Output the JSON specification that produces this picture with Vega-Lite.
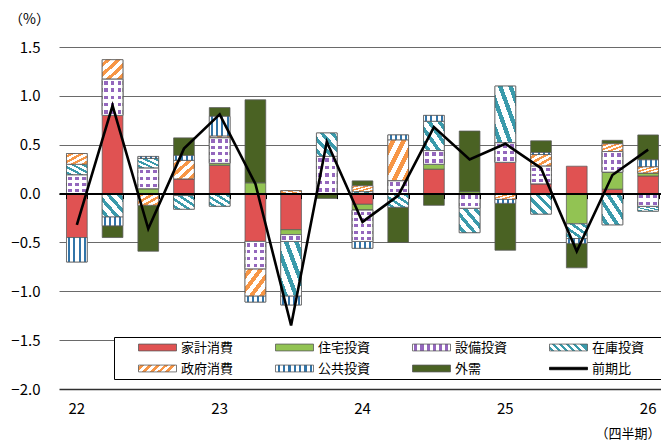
{
  "$schema": "https://vega.github.io/schema/vega-lite/v6.json",
  "width": 602,
  "height": 342,
  "autosize": "none",
  "padding": {"left": 59, "top": 47, "right": 0, "bottom": 52},
  "background": "white",
  "config": {
    "font": "Noto Sans CJK JP",
    "view": {"stroke": null}
  },
  "datasets": {
    "ord": [
      {"s": "家計消費", "k": 1},
      {"s": "住宅投資", "k": 2},
      {"s": "設備投資", "k": 3},
      {"s": "在庫投資", "k": 4},
      {"s": "政府消費", "k": 5},
      {"s": "公共投資", "k": 6},
      {"s": "外需", "k": 7}
    ],
    "bars": [
      {"q": "22Q1", "s": "家計消費", "v": -0.45},
      {"q": "22Q1", "s": "設備投資", "v": 0.19},
      {"q": "22Q1", "s": "在庫投資", "v": 0.11},
      {"q": "22Q1", "s": "政府消費", "v": 0.11},
      {"q": "22Q1", "s": "公共投資", "v": -0.25},
      {"q": "22Q2", "s": "家計消費", "v": 0.80},
      {"q": "22Q2", "s": "設備投資", "v": 0.37},
      {"q": "22Q2", "s": "在庫投資", "v": -0.24},
      {"q": "22Q2", "s": "政府消費", "v": 0.20},
      {"q": "22Q2", "s": "公共投資", "v": -0.09},
      {"q": "22Q2", "s": "外需", "v": -0.12},
      {"q": "22Q3", "s": "住宅投資", "v": 0.05},
      {"q": "22Q3", "s": "設備投資", "v": 0.21},
      {"q": "22Q3", "s": "在庫投資", "v": 0.10},
      {"q": "22Q3", "s": "政府消費", "v": -0.12},
      {"q": "22Q3", "s": "公共投資", "v": 0.02},
      {"q": "22Q3", "s": "外需", "v": -0.47},
      {"q": "22Q4", "s": "家計消費", "v": 0.15},
      {"q": "22Q4", "s": "設備投資", "v": -0.02},
      {"q": "22Q4", "s": "在庫投資", "v": -0.14},
      {"q": "22Q4", "s": "政府消費", "v": 0.19},
      {"q": "22Q4", "s": "公共投資", "v": 0.05},
      {"q": "22Q4", "s": "外需", "v": 0.18},
      {"q": "23Q1", "s": "家計消費", "v": 0.29},
      {"q": "23Q1", "s": "住宅投資", "v": 0.02},
      {"q": "23Q1", "s": "設備投資", "v": 0.26},
      {"q": "23Q1", "s": "在庫投資", "v": -0.13},
      {"q": "23Q1", "s": "政府消費", "v": 0.02},
      {"q": "23Q1", "s": "公共投資", "v": 0.20},
      {"q": "23Q1", "s": "外需", "v": 0.09},
      {"q": "23Q2", "s": "家計消費", "v": -0.49},
      {"q": "23Q2", "s": "住宅投資", "v": 0.11},
      {"q": "23Q2", "s": "設備投資", "v": -0.28},
      {"q": "23Q2", "s": "政府消費", "v": -0.28},
      {"q": "23Q2", "s": "公共投資", "v": -0.06},
      {"q": "23Q2", "s": "外需", "v": 0.85},
      {"q": "23Q3", "s": "家計消費", "v": -0.37},
      {"q": "23Q3", "s": "住宅投資", "v": -0.05},
      {"q": "23Q3", "s": "設備投資", "v": -0.07},
      {"q": "23Q3", "s": "在庫投資", "v": -0.56},
      {"q": "23Q3", "s": "政府消費", "v": 0.03},
      {"q": "23Q3", "s": "公共投資", "v": -0.09},
      {"q": "23Q4", "s": "設備投資", "v": 0.38},
      {"q": "23Q4", "s": "在庫投資", "v": 0.24},
      {"q": "23Q4", "s": "外需", "v": -0.05},
      {"q": "24Q1", "s": "家計消費", "v": -0.11},
      {"q": "24Q1", "s": "住宅投資", "v": -0.06},
      {"q": "24Q1", "s": "設備投資", "v": -0.32},
      {"q": "24Q1", "s": "在庫投資", "v": 0.02},
      {"q": "24Q1", "s": "政府消費", "v": 0.06},
      {"q": "24Q1", "s": "公共投資", "v": -0.07},
      {"q": "24Q1", "s": "外需", "v": 0.05},
      {"q": "24Q2", "s": "設備投資", "v": 0.13},
      {"q": "24Q2", "s": "在庫投資", "v": -0.14},
      {"q": "24Q2", "s": "政府消費", "v": 0.42},
      {"q": "24Q2", "s": "公共投資", "v": 0.05},
      {"q": "24Q2", "s": "外需", "v": -0.36},
      {"q": "24Q3", "s": "家計消費", "v": 0.25},
      {"q": "24Q3", "s": "住宅投資", "v": 0.05},
      {"q": "24Q3", "s": "設備投資", "v": 0.14},
      {"q": "24Q3", "s": "在庫投資", "v": 0.30},
      {"q": "24Q3", "s": "公共投資", "v": 0.06},
      {"q": "24Q3", "s": "外需", "v": -0.12},
      {"q": "24Q4", "s": "住宅投資", "v": 0.02},
      {"q": "24Q4", "s": "設備投資", "v": -0.15},
      {"q": "24Q4", "s": "在庫投資", "v": -0.25},
      {"q": "24Q4", "s": "外需", "v": 0.62},
      {"q": "25Q1", "s": "家計消費", "v": 0.32},
      {"q": "25Q1", "s": "設備投資", "v": 0.20},
      {"q": "25Q1", "s": "在庫投資", "v": 0.58},
      {"q": "25Q1", "s": "政府消費", "v": -0.06},
      {"q": "25Q1", "s": "公共投資", "v": -0.04},
      {"q": "25Q1", "s": "外需", "v": -0.48},
      {"q": "25Q2", "s": "家計消費", "v": 0.10},
      {"q": "25Q2", "s": "設備投資", "v": 0.18},
      {"q": "25Q2", "s": "在庫投資", "v": -0.21},
      {"q": "25Q2", "s": "政府消費", "v": 0.12},
      {"q": "25Q2", "s": "公共投資", "v": 0.02},
      {"q": "25Q2", "s": "外需", "v": 0.12},
      {"q": "25Q3", "s": "家計消費", "v": 0.28},
      {"q": "25Q3", "s": "住宅投資", "v": -0.31},
      {"q": "25Q3", "s": "在庫投資", "v": -0.15},
      {"q": "25Q3", "s": "公共投資", "v": -0.05},
      {"q": "25Q3", "s": "外需", "v": -0.25},
      {"q": "25Q4", "s": "家計消費", "v": 0.045},
      {"q": "25Q4", "s": "住宅投資", "v": 0.175},
      {"q": "25Q4", "s": "設備投資", "v": 0.21},
      {"q": "25Q4", "s": "在庫投資", "v": -0.32},
      {"q": "25Q4", "s": "政府消費", "v": 0.08},
      {"q": "25Q4", "s": "外需", "v": 0.035},
      {"q": "26Q1", "s": "家計消費", "v": 0.18},
      {"q": "26Q1", "s": "住宅投資", "v": 0.03},
      {"q": "26Q1", "s": "設備投資", "v": -0.13},
      {"q": "26Q1", "s": "在庫投資", "v": -0.05},
      {"q": "26Q1", "s": "政府消費", "v": 0.065},
      {"q": "26Q1", "s": "公共投資", "v": 0.07},
      {"q": "26Q1", "s": "外需", "v": 0.255}
    ],
    "line": [
      {"q": "22Q1", "v": -0.32},
      {"q": "22Q2", "v": 0.90},
      {"q": "22Q3", "v": -0.36},
      {"q": "22Q4", "v": 0.46},
      {"q": "23Q1", "v": 0.81},
      {"q": "23Q2", "v": 0.10},
      {"q": "23Q3", "v": -1.35},
      {"q": "23Q4", "v": 0.53},
      {"q": "24Q1", "v": -0.29},
      {"q": "24Q2", "v": -0.02},
      {"q": "24Q3", "v": 0.68},
      {"q": "24Q4", "v": 0.35},
      {"q": "25Q1", "v": 0.51},
      {"q": "25Q2", "v": 0.26},
      {"q": "25Q3", "v": -0.59},
      {"q": "25Q4", "v": 0.19},
      {"q": "26Q1", "v": 0.45}
    ]
  },
  "resolve": {"axis": {"x": "independent"}},
  "layer": [
    {
      "data": {"name": "bars"},
      "transform": [
        {"lookup": "s", "from": {"data": {"name": "ord"}, "key": "s", "fields": ["k"]}},
        {"stack": "v", "groupby": ["q"], "sort": [{"field": "k", "order": "ascending"}], "as": ["y0", "y1"]}
      ],
      "encoding": {
        "x": {"field": "q", "type": "ordinal"},
        "y": {"field": "y1", "type": "quantitative"},
        "y2": {"field": "y0"}
      },
      "layer": [
        {
          "mark": {"type": "bar", "strokeWidth": 0.75},
          "encoding": {
            "x": {
              "field": "q", "type": "ordinal",
              "scale": {
                "domain": ["22Q1","22Q2","22Q3","22Q4","23Q1","23Q2","23Q3","23Q4","24Q1","24Q2","24Q3","24Q4","25Q1","25Q2","25Q3","25Q4","26Q1"],
                "range": [0, 607],
                "paddingInner": 0.42,
                "paddingOuter": 0.21
              },
              "axis": {
                "orient": "bottom",
                "offset": -195.4,
                "labels": false,
                "title": null,
                "grid": false,
                "domainColor": "black",
                "domainWidth": 2,
                "tickColor": "black",
                "tickSize": 5,
                "tickWidth": 1,
                "tickBand": "extent",
                "zindex": 1
              }
            },
            "y": {
              "field": "y1", "type": "quantitative",
              "scale": {"domain": [-2, 1.5], "nice": false, "zero": false},
              "axis": {
                "values": [-2, -1.5, -1, -0.5, 0, 0.5, 1, 1.5],
                "format": ".1f",
                "domain": false,
                "ticks": false,
                "labelPadding": 19,
                "labelFontSize": 15,
                "labelColor": "black",
                "grid": true,
                "gridColor": {"condition": {"test": "datum.value === -2", "value": "#303030"}, "value": "#6a6a6a"},
                "gridWidth": {"condition": {"test": "datum.value === -2", "value": 1.6}, "value": 1},
                "title": "（%）",
                "titleAngle": 0,
                "titleX": -30,
                "titleY": -28,
                "titleAlign": "center",
                "titleBaseline": "middle",
                "titleFontSize": 14,
                "titleFontWeight": "normal",
                "titleColor": "black"
              }
            },
            "fill": {
              "field": "s", "type": "nominal",
              "scale": {
                "domain": ["外需","家計消費","住宅投資","設備投資","在庫投資","政府消費","公共投資"],
                "range": ["#4a6223", "#e05252", "#92c353", "#d6c3e6", "#a9d3da", "#fbcda6", "#9dc0da"]
              },
              "legend": null
            },
            "stroke": {
              "field": "s", "type": "nominal",
              "scale": {
                "domain": ["家計消費","住宅投資","設備投資","在庫投資","政府消費","公共投資","外需","前期比"],
                "range": ["#595959", "#595959", "#595959", "#595959", "#595959", "#595959", "#595959", "black"]
              },
              "legend": {
                "orient": "none",
                "legendX": 55,
                "legendY": 290,
                "direction": "horizontal",
                "columns": 4,
                "gridAlign": "all",
                "columnPadding": 0,
                "rowPadding": 6,
                "clipHeight": 15,
                "padding": 3,
                "title": null,
                "symbolType": "M-1,-0.18H1V0.18H-1Z",
                "symbolSize": 1444,
                "symbolStrokeWidth": 0.8,
                "symbolOffset": 21,
                "symbolFillColor": {"expr": "datum.value === '在庫投資' ? {gradient: 'linear', x1: 0, y1: 1, x2: 1, y2: 0.816, stops: [{offset: 0, color: 'white'}, {offset: 0.05, color: 'white'}, {offset: 0.05, color: '#3a9aab'}, {offset: 0.13, color: '#3a9aab'}, {offset: 0.13, color: 'white'}, {offset: 0.23, color: 'white'}, {offset: 0.23, color: '#3a9aab'}, {offset: 0.31, color: '#3a9aab'}, {offset: 0.31, color: 'white'}, {offset: 0.41, color: 'white'}, {offset: 0.41, color: '#3a9aab'}, {offset: 0.49, color: '#3a9aab'}, {offset: 0.49, color: 'white'}, {offset: 0.59, color: 'white'}, {offset: 0.59, color: '#3a9aab'}, {offset: 0.67, color: '#3a9aab'}, {offset: 0.67, color: 'white'}, {offset: 0.77, color: 'white'}, {offset: 0.77, color: '#3a9aab'}, {offset: 0.85, color: '#3a9aab'}, {offset: 0.85, color: 'white'}, {offset: 0.95, color: 'white'}, {offset: 0.95, color: '#3a9aab'}, {offset: 1, color: '#3a9aab'}]} : datum.value === '政府消費' ? {gradient: 'linear', x1: 0, y1: 0, x2: 1, y2: 0.184, stops: [{offset: 0, color: 'white'}, {offset: 0.05, color: 'white'}, {offset: 0.05, color: '#f79646'}, {offset: 0.15, color: '#f79646'}, {offset: 0.15, color: 'white'}, {offset: 0.25, color: 'white'}, {offset: 0.25, color: '#f79646'}, {offset: 0.35, color: '#f79646'}, {offset: 0.35, color: 'white'}, {offset: 0.45, color: 'white'}, {offset: 0.45, color: '#f79646'}, {offset: 0.55, color: '#f79646'}, {offset: 0.55, color: 'white'}, {offset: 0.65, color: 'white'}, {offset: 0.65, color: '#f79646'}, {offset: 0.75, color: '#f79646'}, {offset: 0.75, color: 'white'}, {offset: 0.85, color: 'white'}, {offset: 0.85, color: '#f79646'}, {offset: 0.95, color: '#f79646'}, {offset: 0.95, color: 'white'}, {offset: 1, color: 'white'}]} : datum.value === '公共投資' ? {gradient: 'linear', x1: 0, y1: 0, x2: 1, y2: 0, stops: [{offset: 0, color: 'white'}, {offset: 0.06, color: 'white'}, {offset: 0.06, color: '#3274a8'}, {offset: 0.12, color: '#3274a8'}, {offset: 0.12, color: 'white'}, {offset: 0.2, color: 'white'}, {offset: 0.2, color: '#3274a8'}, {offset: 0.26, color: '#3274a8'}, {offset: 0.26, color: 'white'}, {offset: 0.34, color: 'white'}, {offset: 0.34, color: '#3274a8'}, {offset: 0.4, color: '#3274a8'}, {offset: 0.4, color: 'white'}, {offset: 0.48, color: 'white'}, {offset: 0.48, color: '#3274a8'}, {offset: 0.54, color: '#3274a8'}, {offset: 0.54, color: 'white'}, {offset: 0.62, color: 'white'}, {offset: 0.62, color: '#3274a8'}, {offset: 0.68, color: '#3274a8'}, {offset: 0.68, color: 'white'}, {offset: 0.76, color: 'white'}, {offset: 0.76, color: '#3274a8'}, {offset: 0.82, color: '#3274a8'}, {offset: 0.82, color: 'white'}, {offset: 0.9, color: 'white'}, {offset: 0.9, color: '#3274a8'}, {offset: 0.96, color: '#3274a8'}, {offset: 0.96, color: 'white'}, {offset: 1, color: 'white'}]} : datum.value === '設備投資' ? {gradient: 'linear', x1: 0, y1: 0, x2: 1, y2: 0, stops: [{offset: 0, color: 'white'}, {offset: 0.05, color: 'white'}, {offset: 0.05, color: '#9467bd'}, {offset: 0.13, color: '#9467bd'}, {offset: 0.13, color: 'white'}, {offset: 0.21, color: 'white'}, {offset: 0.21, color: '#9467bd'}, {offset: 0.29, color: '#9467bd'}, {offset: 0.29, color: 'white'}, {offset: 0.37, color: 'white'}, {offset: 0.37, color: '#9467bd'}, {offset: 0.45, color: '#9467bd'}, {offset: 0.45, color: 'white'}, {offset: 0.53, color: 'white'}, {offset: 0.53, color: '#9467bd'}, {offset: 0.61, color: '#9467bd'}, {offset: 0.61, color: 'white'}, {offset: 0.69, color: 'white'}, {offset: 0.69, color: '#9467bd'}, {offset: 0.77, color: '#9467bd'}, {offset: 0.77, color: 'white'}, {offset: 0.85, color: 'white'}, {offset: 0.85, color: '#9467bd'}, {offset: 0.93, color: '#9467bd'}, {offset: 0.93, color: 'white'}, {offset: 1, color: 'white'}]} : datum.value === '前期比' ? 'black' : datum.value === '家計消費' ? '#e05252' : datum.value === '住宅投資' ? '#92c353' : '#4a6223'"},
                "labelFontSize": 13,
                "labelColor": "black",
                "labelOffset": 4,
                "labelLimit": 300,
                "fillColor": "white",
                "strokeColor": "black",
                "encode": {
                  "entries": {
                    "update": {
                      "width": {"value": 137}
                    }
                  },
                  "symbols": {
                    "update": {
                      "shape": {"signal": "datum.value === '前期比' ? 'M-1,-0.065H1V0.065H-1Z' : 'M-1,-0.18H1V0.18H-1Z'"}
                    }
                  }
                }
              }
            }
          }
        },
        {
          "transform": [{"filter": "datum.s === '在庫投資'"}],
          "mark": {
            "type": "bar", "stroke": "#595959", "strokeWidth": 0.75,
            "fill": {"gradient": "linear", "x1": 0, "y1": 1, "x2": 1, "y2": 0, "stops": [
              {"offset": 0, "color": "white"}, {"offset": 0.07, "color": "white"},
              {"offset": 0.07, "color": "#3a9aab"}, {"offset": 0.18, "color": "#3a9aab"},
              {"offset": 0.18, "color": "white"}, {"offset": 0.32, "color": "white"},
              {"offset": 0.32, "color": "#3a9aab"}, {"offset": 0.43, "color": "#3a9aab"},
              {"offset": 0.43, "color": "white"}, {"offset": 0.57, "color": "white"},
              {"offset": 0.57, "color": "#3a9aab"}, {"offset": 0.68, "color": "#3a9aab"},
              {"offset": 0.68, "color": "white"}, {"offset": 0.82, "color": "white"},
              {"offset": 0.82, "color": "#3a9aab"}, {"offset": 0.93, "color": "#3a9aab"},
              {"offset": 0.93, "color": "white"}, {"offset": 1, "color": "white"}
            ]}
          }
        },
        {
          "transform": [{"filter": "datum.s === '政府消費'"}],
          "mark": {
            "type": "bar", "stroke": "#595959", "strokeWidth": 0.75,
            "fill": {"gradient": "linear", "x1": 0, "y1": 0, "x2": 1, "y2": 1, "stops": [
              {"offset": 0, "color": "white"}, {"offset": 0.08, "color": "white"},
              {"offset": 0.08, "color": "#f79646"}, {"offset": 0.2, "color": "#f79646"},
              {"offset": 0.2, "color": "white"}, {"offset": 0.33, "color": "white"},
              {"offset": 0.33, "color": "#f79646"}, {"offset": 0.45, "color": "#f79646"},
              {"offset": 0.45, "color": "white"}, {"offset": 0.58, "color": "white"},
              {"offset": 0.58, "color": "#f79646"}, {"offset": 0.7, "color": "#f79646"},
              {"offset": 0.7, "color": "white"}, {"offset": 0.83, "color": "white"},
              {"offset": 0.83, "color": "#f79646"}, {"offset": 0.95, "color": "#f79646"},
              {"offset": 0.95, "color": "white"}, {"offset": 1, "color": "white"}
            ]}
          }
        },
        {
          "transform": [{"filter": "datum.s === '公共投資'"}],
          "mark": {
            "type": "bar", "stroke": "#595959", "strokeWidth": 0.75,
            "fill": {"gradient": "linear", "x1": 0, "y1": 0, "x2": 1, "y2": 0, "stops": [
              {"offset": 0, "color": "white"}, {"offset": 0.08, "color": "white"},
              {"offset": 0.08, "color": "#3274a8"}, {"offset": 0.18, "color": "#3274a8"},
              {"offset": 0.18, "color": "white"}, {"offset": 0.33, "color": "white"},
              {"offset": 0.33, "color": "#3274a8"}, {"offset": 0.43, "color": "#3274a8"},
              {"offset": 0.43, "color": "white"}, {"offset": 0.58, "color": "white"},
              {"offset": 0.58, "color": "#3274a8"}, {"offset": 0.68, "color": "#3274a8"},
              {"offset": 0.68, "color": "white"}, {"offset": 0.83, "color": "white"},
              {"offset": 0.83, "color": "#3274a8"}, {"offset": 0.93, "color": "#3274a8"},
              {"offset": 0.93, "color": "white"}, {"offset": 1, "color": "white"}
            ]}
          }
        },
        {
          "transform": [{"filter": "datum.s === '設備投資'"}],
          "mark": {
            "type": "bar", "stroke": "#595959", "strokeWidth": 0.75,
            "fill": {"gradient": "linear", "x1": 0, "y1": 0, "x2": 1, "y2": 0, "stops": [
              {"offset": 0, "color": "white"}, {"offset": 0.08, "color": "white"},
              {"offset": 0.08, "color": "#9467bd"}, {"offset": 0.26, "color": "#9467bd"},
              {"offset": 0.26, "color": "white"}, {"offset": 0.41, "color": "white"},
              {"offset": 0.41, "color": "#9467bd"}, {"offset": 0.59, "color": "#9467bd"},
              {"offset": 0.59, "color": "white"}, {"offset": 0.74, "color": "white"},
              {"offset": 0.74, "color": "#9467bd"}, {"offset": 0.92, "color": "#9467bd"},
              {"offset": 0.92, "color": "white"}, {"offset": 1, "color": "white"}
            ]}
          }
        },
        {
          "transform": [{"filter": "datum.s === '設備投資' && abs(datum.v) < 0.11"}],
          "mark": {
            "type": "bar", "stroke": "#595959", "strokeWidth": 0.75,
            "fill": {"gradient": "linear", "x1": 0, "y1": 0, "x2": 0, "y2": 1, "stops": [
              {"offset": 0, "color": "white"}, {"offset": 0.25, "color": "white"},
              {"offset": 0.25, "color": "rgba(255,255,255,0)"}, {"offset": 0.75, "color": "rgba(255,255,255,0)"},
              {"offset": 0.75, "color": "white"}, {"offset": 1, "color": "white"}
            ]}
          }
        },
        {
          "transform": [{"filter": "datum.s === '設備投資' && abs(datum.v) >= 0.11 && abs(datum.v) < 0.18"}],
          "mark": {
            "type": "bar", "stroke": "#595959", "strokeWidth": 0.75,
            "fill": {"gradient": "linear", "x1": 0, "y1": 0, "x2": 0, "y2": 1, "stops": [
              {"offset": 0, "color": "white"}, {"offset": 0.125, "color": "white"},
              {"offset": 0.125, "color": "rgba(255,255,255,0)"}, {"offset": 0.375, "color": "rgba(255,255,255,0)"},
              {"offset": 0.375, "color": "white"}, {"offset": 0.625, "color": "white"},
              {"offset": 0.625, "color": "rgba(255,255,255,0)"}, {"offset": 0.875, "color": "rgba(255,255,255,0)"},
              {"offset": 0.875, "color": "white"}, {"offset": 1, "color": "white"}
            ]}
          }
        },
        {
          "transform": [{"filter": "datum.s === '設備投資' && abs(datum.v) >= 0.18 && abs(datum.v) < 0.25"}],
          "mark": {
            "type": "bar", "stroke": "#595959", "strokeWidth": 0.75,
            "fill": {"gradient": "linear", "x1": 0, "y1": 0, "x2": 0, "y2": 1, "stops": [
              {"offset": 0, "color": "white"}, {"offset": 0.083, "color": "white"},
              {"offset": 0.083, "color": "rgba(255,255,255,0)"}, {"offset": 0.25, "color": "rgba(255,255,255,0)"},
              {"offset": 0.25, "color": "white"}, {"offset": 0.417, "color": "white"},
              {"offset": 0.417, "color": "rgba(255,255,255,0)"}, {"offset": 0.583, "color": "rgba(255,255,255,0)"},
              {"offset": 0.583, "color": "white"}, {"offset": 0.75, "color": "white"},
              {"offset": 0.75, "color": "rgba(255,255,255,0)"}, {"offset": 0.917, "color": "rgba(255,255,255,0)"},
              {"offset": 0.917, "color": "white"}, {"offset": 1, "color": "white"}
            ]}
          }
        },
        {
          "transform": [{"filter": "datum.s === '設備投資' && abs(datum.v) >= 0.25 && abs(datum.v) < 0.32"}],
          "mark": {
            "type": "bar", "stroke": "#595959", "strokeWidth": 0.75,
            "fill": {"gradient": "linear", "x1": 0, "y1": 0, "x2": 0, "y2": 1, "stops": [
              {"offset": 0, "color": "white"}, {"offset": 0.0625, "color": "white"},
              {"offset": 0.0625, "color": "rgba(255,255,255,0)"}, {"offset": 0.1875, "color": "rgba(255,255,255,0)"},
              {"offset": 0.1875, "color": "white"}, {"offset": 0.3125, "color": "white"},
              {"offset": 0.3125, "color": "rgba(255,255,255,0)"}, {"offset": 0.4375, "color": "rgba(255,255,255,0)"},
              {"offset": 0.4375, "color": "white"}, {"offset": 0.5625, "color": "white"},
              {"offset": 0.5625, "color": "rgba(255,255,255,0)"}, {"offset": 0.6875, "color": "rgba(255,255,255,0)"},
              {"offset": 0.6875, "color": "white"}, {"offset": 0.8125, "color": "white"},
              {"offset": 0.8125, "color": "rgba(255,255,255,0)"}, {"offset": 0.9375, "color": "rgba(255,255,255,0)"},
              {"offset": 0.9375, "color": "white"}, {"offset": 1, "color": "white"}
            ]}
          }
        },
        {
          "transform": [{"filter": "datum.s === '設備投資' && abs(datum.v) >= 0.32"}],
          "mark": {
            "type": "bar", "stroke": "#595959", "strokeWidth": 0.75,
            "fill": {"gradient": "linear", "x1": 0, "y1": 0, "x2": 0, "y2": 1, "stops": [
              {"offset": 0, "color": "white"}, {"offset": 0.05, "color": "white"},
              {"offset": 0.05, "color": "rgba(255,255,255,0)"}, {"offset": 0.15, "color": "rgba(255,255,255,0)"},
              {"offset": 0.15, "color": "white"}, {"offset": 0.25, "color": "white"},
              {"offset": 0.25, "color": "rgba(255,255,255,0)"}, {"offset": 0.35, "color": "rgba(255,255,255,0)"},
              {"offset": 0.35, "color": "white"}, {"offset": 0.45, "color": "white"},
              {"offset": 0.45, "color": "rgba(255,255,255,0)"}, {"offset": 0.55, "color": "rgba(255,255,255,0)"},
              {"offset": 0.55, "color": "white"}, {"offset": 0.65, "color": "white"},
              {"offset": 0.65, "color": "rgba(255,255,255,0)"}, {"offset": 0.75, "color": "rgba(255,255,255,0)"},
              {"offset": 0.75, "color": "white"}, {"offset": 0.85, "color": "white"},
              {"offset": 0.85, "color": "rgba(255,255,255,0)"}, {"offset": 0.95, "color": "rgba(255,255,255,0)"},
              {"offset": 0.95, "color": "white"}, {"offset": 1, "color": "white"}
            ]}
          }
        }
      ]
    },
    {
      "data": {"name": "line"},
      "mark": {"type": "line", "color": "black", "strokeWidth": 2.6},
      "encoding": {
        "x": {
          "field": "q", "type": "ordinal",
          "axis": {
            "orient": "bottom",
            "domain": false,
            "ticks": false,
            "grid": false,
            "labelAngle": 0,
            "labelPadding": 12,
            "labelFontSize": 15,
            "labelColor": "black",
            "labelExpr": "slice(datum.value, 2) == 'Q1' ? slice(datum.value, 0, 2) : ''",
            "title": "（四半期）",
            "titleFontSize": 13,
            "titleFontWeight": "normal",
            "titleColor": "black",
            "titleAnchor": "end",
            "titleAlign": "right",
            "titleBaseline": "middle",
            "titleX": 601,
            "titleY": 44
          }
        },
        "y": {"field": "v", "type": "quantitative"}
      }
    }
  ]
}
